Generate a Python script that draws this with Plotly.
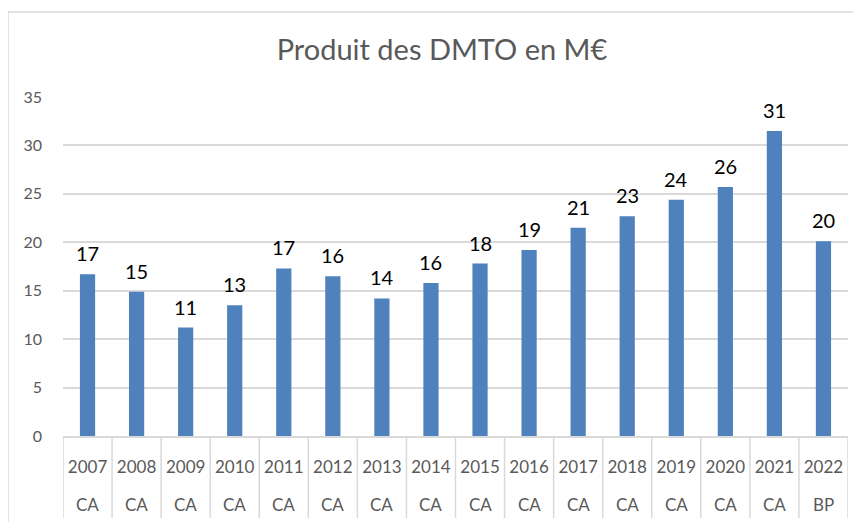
import plotly.graph_objects as go

years = ["2007", "2008", "2009", "2010", "2011", "2012", "2013", "2014",
         "2015", "2016", "2017", "2018", "2019", "2020", "2021", "2022"]
types = ["CA", "CA", "CA", "CA", "CA", "CA", "CA", "CA",
         "CA", "CA", "CA", "CA", "CA", "CA", "CA", "BP"]
values = [16.7, 14.9, 11.2, 13.5, 17.3, 16.5, 14.2, 15.8,
          17.8, 19.2, 21.5, 22.7, 24.4, 25.7, 31.5, 20.1]
labels = ["17", "15", "11", "13", "17", "16", "14", "16",
          "18", "19", "21", "23", "24", "26", "31", "20"]

FONT = "Lato, Carlito, Calibri, sans-serif"
GRID = "#d9d9d9"
TXT = "#595959"

fig = go.Figure()
fig.add_trace(go.Bar(x=years, y=values, marker=dict(color="#4f81bd", line=dict(width=0)),
                     hoverinfo="skip"))

annotations = []
for i, (v, lab) in enumerate(zip(values, labels)):
    annotations.append(dict(x=i, y=v, xref="x", yref="y", text=lab, showarrow=False,
                            yanchor="bottom", yshift=7,
                            font=dict(family=FONT, size=20, color="#000000")))
for i, t in enumerate(types):
    annotations.append(dict(x=i, y=-0.2035, xref="x", yref="paper", text=t, showarrow=False,
                            yanchor="middle",
                            font=dict(family=FONT, size=17, color=TXT)))

shapes = []
for i in range(len(years) + 1):
    shapes.append(dict(type="line", xref="x", yref="paper", x0=i - 0.5, x1=i - 0.5,
                       y0=0, y1=-0.242, line=dict(color=GRID, width=1.5)))
# chart border
shapes.append(dict(type="rect", xref="paper", yref="paper", x0=-0.0701, x1=1.3,
                   y0=-0.6, y1=1.2507, line=dict(color=GRID, width=1.5)))

fig.update_layout(
    width=853, height=514,
    margin=dict(l=55, r=13, t=89, b=86, autoexpand=False),
    paper_bgcolor="white", plot_bgcolor="white",
    showlegend=False,
    bargap=0.69,
    title=dict(text="Produit des DMTO en M€", xref="container", x=0.5088, xanchor="center",
               yref="container", y=0.918, yanchor="middle",
               font=dict(family=FONT, size=29, color=TXT)),
    annotations=annotations,
    shapes=shapes,
    xaxis=dict(type="category", tickmode="array", tickvals=years, ticktext=years,
               ticks="", showgrid=False, showline=True, linecolor=GRID, linewidth=1.5,
               ticklabelstandoff=15, automargin=False,
               tickfont=dict(family=FONT, size=17, color=TXT),
               range=[-0.5, len(years) - 0.5]),
    yaxis=dict(range=[0, 35], dtick=5, showgrid=True, gridcolor=GRID, gridwidth=1.5,
               zeroline=False, ticks="", ticklabelstandoff=20, automargin=False,
               tickfont=dict(family=FONT, size=16, color=TXT)),
)

fig.write_html("out.html")
